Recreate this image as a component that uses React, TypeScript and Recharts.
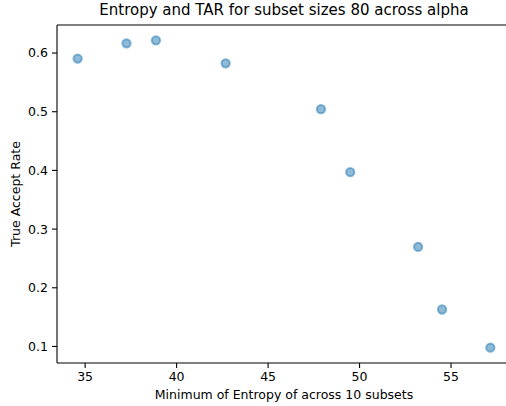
import React from "react";
import {
  ScatterChart,
  Scatter,
  XAxis,
  YAxis,
  ZAxis,
  Label,
} from "recharts";

// minimum entropy across 10 subsets, one point per alpha
const entropyValues = [34.59, 37.26, 38.87, 42.68, 47.89, 49.49, 53.2, 54.51, 57.15];
const tarValues = [0.5905, 0.6165, 0.6216, 0.5825, 0.5043, 0.397, 0.2696, 0.163, 0.098];

const xTicks = [35, 40, 45, 50, 55];
const yTicks = [0.1, 0.2, 0.3, 0.4, 0.5, 0.6];

const points = entropyValues.map((x, i) => ({ x, y: tarValues[i] }));

// matplotlib-style 5% margins around the data
const padded = (vals: number[]): [number, number] => {
  const lo = Math.min(...vals);
  const hi = Math.max(...vals);
  const m = (hi - lo) * 0.05;
  return [lo - m, hi + m];
};

const xDomain = padded(entropyValues);
const yDomain = padded(tarValues);

const FONT = "'DejaVu Sans', sans-serif";
const tickStyle = { fontSize: 12.5, fill: "#000", fontFamily: FONT };

const Dot = (props: any) => (
  <circle
    cx={props.cx}
    cy={props.cy}
    r={4.15}
    fill="#1f77b4"
    fillOpacity={0.5}
    stroke="#1f77b4"
    strokeOpacity={0.5}
    strokeWidth={2}
  />
);

const App = () => {
  return (
    <div
      style={{
        position: "absolute",
        left: 0,
        top: 0,
        width: 506,
        height: 406,
        overflow: "hidden",
        background: "#fff",
      }}
    >
      <div
        style={{
          position: "absolute",
          left: 0,
          top: 0,
          width: 568,
          textAlign: "center",
          fontFamily: FONT,
          fontSize: 15,
          lineHeight: "20px",
          color: "#000",
          whiteSpace: "nowrap",
        }}
      >
        Entropy and TAR for subset sizes 80 across alpha
      </div>
      <ScatterChart
        width={512}
        height={406}
        margin={{ top: 24, right: 1, bottom: 0, left: 0 }}
        style={{ fontFamily: FONT }}
      >
        <XAxis
          xAxisId="top"
          orientation="top"
          type="number"
          dataKey="x"
          domain={xDomain}
          allowDataOverflow
          height={1}
          tick={false}
          tickLine={false}
          axisLine={{ stroke: "#000", strokeWidth: 1.1 }}
        />
        <XAxis
          type="number"
          dataKey="x"
          domain={xDomain}
          allowDataOverflow
          ticks={xTicks}
          height={43}
          tick={tickStyle}
          tickSize={5}
          tickMargin={4}
          tickLine={{ stroke: "#000", strokeWidth: 1.1 }}
          axisLine={{ stroke: "#000", strokeWidth: 1.1 }}
        >
          <Label
            value="Minimum of Entropy of across 10 subsets"
            position="insideBottom"
            offset={7}
            style={{ fontSize: 12.5, fill: "#000", fontFamily: FONT }}
          />
        </XAxis>
        <YAxis
          type="number"
          dataKey="y"
          domain={yDomain}
          allowDataOverflow
          ticks={yTicks}
          width={57}
          tick={tickStyle}
          tickSize={5}
          tickMargin={4}
          tickFormatter={(v: number) => v.toFixed(1)}
          tickLine={{ stroke: "#000", strokeWidth: 1.1 }}
          axisLine={{ stroke: "#000", strokeWidth: 1.1 }}
        >
          <Label
            value="True Accept Rate"
            angle={-90}
            position="insideLeft"
            offset={16}
            style={{ fontSize: 12.5, fill: "#000", fontFamily: FONT, textAnchor: "middle" }}
          />
        </YAxis>
        <ZAxis range={[54, 54]} />
        <Scatter data={points} shape={<Dot />} isAnimationActive={false} />
      </ScatterChart>
    </div>
  );
};

export default App;
